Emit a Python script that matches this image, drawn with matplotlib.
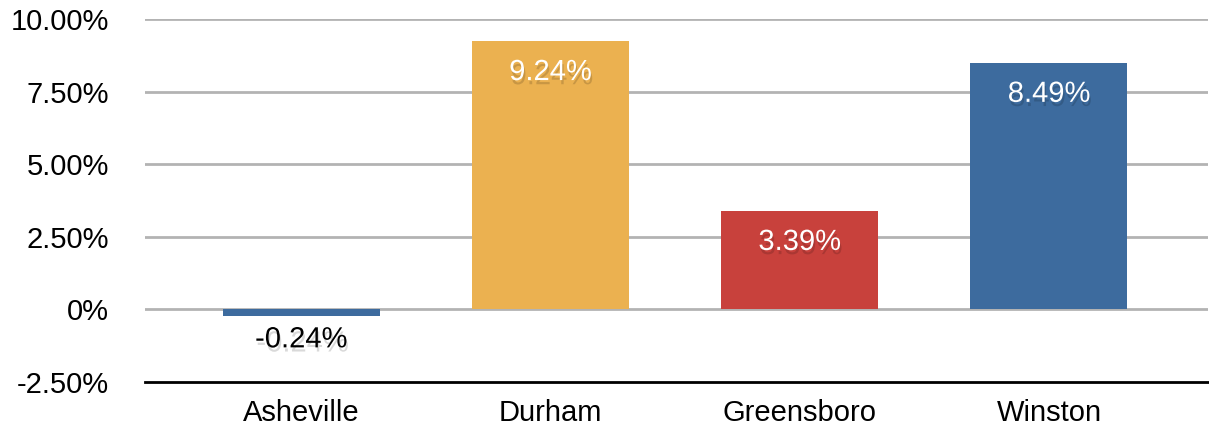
import matplotlib
matplotlib.use("Agg")
import matplotlib.pyplot as plt
import matplotlib.patheffects as pe

categories = ["Asheville", "Durham", "Greensboro", "Winston"]
values = [-0.24, 9.24, 3.39, 8.49]
labels = ["-0.24%", "9.24%", "3.39%", "8.49%"]
colors = ["#3D6B9E", "#EBB150", "#C8413C", "#3D6B9E"]
yticks = [-2.5, 0, 2.5, 5.0, 7.5, 10.0]
yticklabels = ["-2.50%", "0%", "2.50%", "5.00%", "7.50%", "10.00%"]

plt.rcParams['font.family'] = ['Liberation Sans', 'DejaVu Sans']

fig = plt.figure(figsize=(12.09, 4.29), dpi=100)
ax = fig.add_axes([145/1209, 1 - 382/429, (1208 - 145)/1209, (382 - 19)/429])

x = list(range(len(categories)))
ax.bar(x, values, width=0.63, color=colors, zorder=3)

ax.set_ylim(-2.5, 10.0)
ax.set_xlim(-0.626, 3.638)
ax.set_yticks(yticks)
ax.set_yticklabels(yticklabels, fontsize=21)
ax.set_xticks(x)
ax.set_xticklabels(categories, fontsize=21)
ax.tick_params(axis='both', length=0)
ax.tick_params(axis='y', pad=26)
ax.tick_params(axis='x', pad=12)

for t in yticks[1:]:
    ax.axhline(t, color="#B3B3B3", linewidth=2, zorder=1)

for s in ["top", "right", "left"]:
    ax.spines[s].set_visible(False)
ax.spines["bottom"].set_color("black")
ax.spines["bottom"].set_linewidth(2)

shadow = [pe.SimplePatchShadow(offset=(1, -3), shadow_rgbFace="black", alpha=0.15), pe.Normal()]
for xi, v, lab in zip(x, values, labels):
    if v >= 0:
        ax.annotate(lab, (xi, v), xytext=(0, -31), textcoords="offset pixels",
                    ha="center", va="center", color="white", fontsize=21,
                    path_effects=shadow, zorder=4)
    else:
        ax.annotate(lab, (xi, v), xytext=(0, -23), textcoords="offset pixels",
                    ha="center", va="center", color="black", fontsize=21,
                    path_effects=shadow, zorder=4)

fig.savefig("out.png", dpi=100)
